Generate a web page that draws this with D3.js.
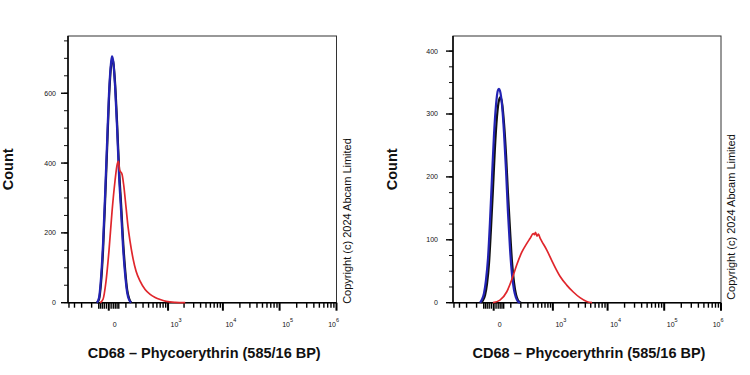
<!DOCTYPE html>
<html><head><meta charset="utf-8">
<script src="https://cdn.jsdelivr.net/npm/d3@7"></script>
<style>
body{margin:0;background:#fff}
svg{display:block}
text{font-family:"Liberation Sans",Arial,sans-serif}
</style>
</head><body>
<svg id="c" width="750" height="375"></svg>
<script>
// ---------- data (channel value -> event count) ----------
const leftBlueX = [-61,-48,-37,-26,-16,-7,1,10,14,19,29,40,52,65,78,94,110,128,147];
const leftBlueCount = [0,15,70,170,310,460,600,690,706,695,620,500,360,260,160,80,30,8,0];
const leftBlackX = [-61,-48,-37,-26,-16,-7,1,10,14,19,29,40,52,65,78,94,110,128,147];
const leftBlackCount = [0,10,55,150,290,440,585,680,695,692,630,515,380,280,180,95,38,12,0];
const leftRedX = [-42,-26,-12,1,14,29,40,48,55,71,82,102,119,137,168,202,255,335,433,553,699,919,1368,2101];
const leftRedCount = [0,10,60,150,260,350,395,405,380,368,340,270,215,175,125,90,62,38,24,15,9,4,1,0];

const rightBlueX = [-74,-61,-48,-37,-26,-16,-7,1,10,19,24,29,40,52,65,78,94,110,128,147,167,190];
const rightBlueCount = [0,5,15,35,70,130,200,265,315,338,340,337,315,270,210,145,85,45,20,8,2,0];
const rightBlackX = [-67,-54,-42,-31,-21,-12,-3,5,14,24,32,40,52,65,78,94,110,128,147,168,202];
const rightBlackCount = [0,4,12,30,62,115,180,245,295,322,327,318,285,235,175,115,65,32,13,4,0];
const rightRedX = [-3,29,69,107,154,211,281,335,398,422,444,478,514,553,599,756,1019,1368,1826,2416,3201,4230,5270];
const rightRedCount = [0,4,17,36,60,80,94,102,110,108,112,106,109,103,98,84,62,42,28,17,8,2,0];

const leftYTicks = [0,200,400,600];
const rightYTicks = [0,100,200,300,400];
const xMajorValues = [0,1e3,1e4,1e5,1e6];
const xMajorBase = ["0","10","10","10","10"];
const xMajorExp = ["","3","4","5","6"];
const xMinorValues = [-400,-300,-200,-100,-50,-40,-30,-20,-10,10,20,30,40,50,
  100,200,300,400,500,600,700,800,900,
  2e3,3e3,4e3,5e3,6e3,7e3,8e3,9e3,
  2e4,3e4,4e4,5e4,6e4,7e4,8e4,9e4,
  2e5,3e5,4e5,5e5,6e5,7e5,8e5,9e5];
const xAxisTitle = "CD68 \u2013 Phycoerythrin (585/16 BP)";
const yAxisTitle = "Count";
const copyrightText = "Copyright (c) 2024  Abcam  Limited";
const seriesColors = {blue:"#2323b4", black:"#111111", red:"#e0262c"};

// ---------- drawing ----------
const svg = d3.select("#c");
const TOP = 36, BOT = 302.7;

function panel(cfg){
  const g = svg.append("g");
  const x = d3.scaleSymlog().constant(100).domain([-420,1e6]).range([cfg.left,cfg.right]);
  const y = d3.scaleLinear().domain([0,cfg.yMax]).range([BOT,TOP]);

  g.append("rect").attr("x",cfg.left).attr("y",TOP)
    .attr("width",cfg.right-cfg.left).attr("height",BOT-TOP)
    .attr("fill","none").attr("stroke","#333").attr("stroke-width",1);

  // y minor ticks
  const yMinor = d3.range(0,cfg.yMax+1,cfg.yMinorStep);
  g.append("g").selectAll("line").data(yMinor).join("line")
    .attr("x1",cfg.left-4).attr("x2",cfg.left).attr("y1",d=>y(d)).attr("y2",d=>y(d))
    .attr("stroke","#111").attr("stroke-width",1);
  // y major ticks + labels
  g.append("g").selectAll("line").data(cfg.yTicks).join("line")
    .attr("x1",cfg.left-7).attr("x2",cfg.left).attr("y1",d=>y(d)).attr("y2",d=>y(d))
    .attr("stroke","#000").attr("stroke-width",1.4);
  g.append("g").selectAll("text").data(cfg.yTicks).join("text")
    .attr("x",cfg.left-7-cfg.yPad).attr("y",d=>y(d)).attr("dy","0.35em")
    .attr("text-anchor","end").attr("font-size",7).attr("fill","#111")
    .text(d3.format("d"));

  // x minor ticks
  g.append("g").selectAll("line").data(xMinorValues).join("line")
    .attr("x1",d=>x(d)).attr("x2",d=>x(d)).attr("y1",BOT).attr("y2",d=>BOT+(Math.abs(d)<=50?6:5))
    .attr("stroke","#000").attr("stroke-width",1.4);
  // x major ticks
  g.append("g").selectAll("line").data(xMajorValues).join("line")
    .attr("x1",d=>x(d)).attr("x2",d=>x(d)).attr("y1",BOT).attr("y2",BOT+8)
    .attr("stroke","#000").attr("stroke-width",2);
  // axis lines
  g.append("line").attr("x1",cfg.left).attr("x2",cfg.left).attr("y1",TOP).attr("y2",BOT)
    .attr("stroke","#000").attr("stroke-width",1.5);
  g.append("line").attr("x1",cfg.left).attr("x2",cfg.right).attr("y1",BOT).attr("y2",BOT)
    .attr("stroke","#000").attr("stroke-width",1.5);

  // x major labels
  xMajorValues.forEach((v,i)=>{
    const last = i===xMajorValues.length-1;
    const t = g.append("text")
      .attr("x", last ? x(v)+2.5 : x(v)+(i===0?6:8))
      .attr("y", 326.5)
      .attr("text-anchor", last ? "end" : "middle")
      .attr("font-size",7).attr("fill","#111");
    t.append("tspan").text(xMajorBase[i]);
    if (xMajorExp[i]) t.append("tspan").attr("dy",-4.5).attr("font-size",5.5).text(xMajorExp[i]);
  });

  // series
  const line = d3.line().x(d=>x(d[0])).y(d=>y(d[1])).curve(d3.curveMonotoneX);
  cfg.series.forEach(s=>{
    g.append("path").datum(d3.zip(s.x,s.c))
      .attr("d",line).attr("fill","none")
      .attr("stroke",s.color).attr("stroke-width",s.w)
      .attr("stroke-linejoin","round");
  });

  // titles
  g.append("text").attr("transform",`translate(${cfg.countX},${(TOP+BOT)/2}) rotate(-90)`)
    .attr("text-anchor","middle").attr("font-size",14.5).attr("font-weight","bold").attr("fill","#111")
    .text(yAxisTitle);
  g.append("text").attr("x",(cfg.left+cfg.right)/2+2).attr("y",357.5)
    .attr("text-anchor","middle").attr("font-size",14.5).attr("font-weight","bold").attr("fill","#111")
    .text(xAxisTitle);
  g.append("text").attr("transform",`translate(${cfg.copyX},${cfg.copyY}) rotate(-90)`)
    .attr("text-anchor","middle").attr("font-size",11).attr("fill","#111")
    .text(copyrightText);
}

panel({left:68,right:336.5,yMax:764,yMinorStep:50,yTicks:leftYTicks,yPad:5,countX:13.3,copyX:351,copyY:221,
  series:[
    {x:leftBlackX,c:leftBlackCount,color:seriesColors.black,w:2.2},
    {x:leftBlueX,c:leftBlueCount,color:seriesColors.blue,w:2.2},
    {x:leftRedX,c:leftRedCount,color:seriesColors.red,w:1.7}
  ]});
panel({left:453,right:721,yMax:424,yMinorStep:25,yTicks:rightYTicks,yPad:8,countX:396.5,copyX:735,copyY:217,
  series:[
    {x:rightBlackX,c:rightBlackCount,color:seriesColors.black,w:2.2},
    {x:rightBlueX,c:rightBlueCount,color:seriesColors.blue,w:2.2},
    {x:rightRedX,c:rightRedCount,color:seriesColors.red,w:1.7}
  ]});
</script>
</body></html>
